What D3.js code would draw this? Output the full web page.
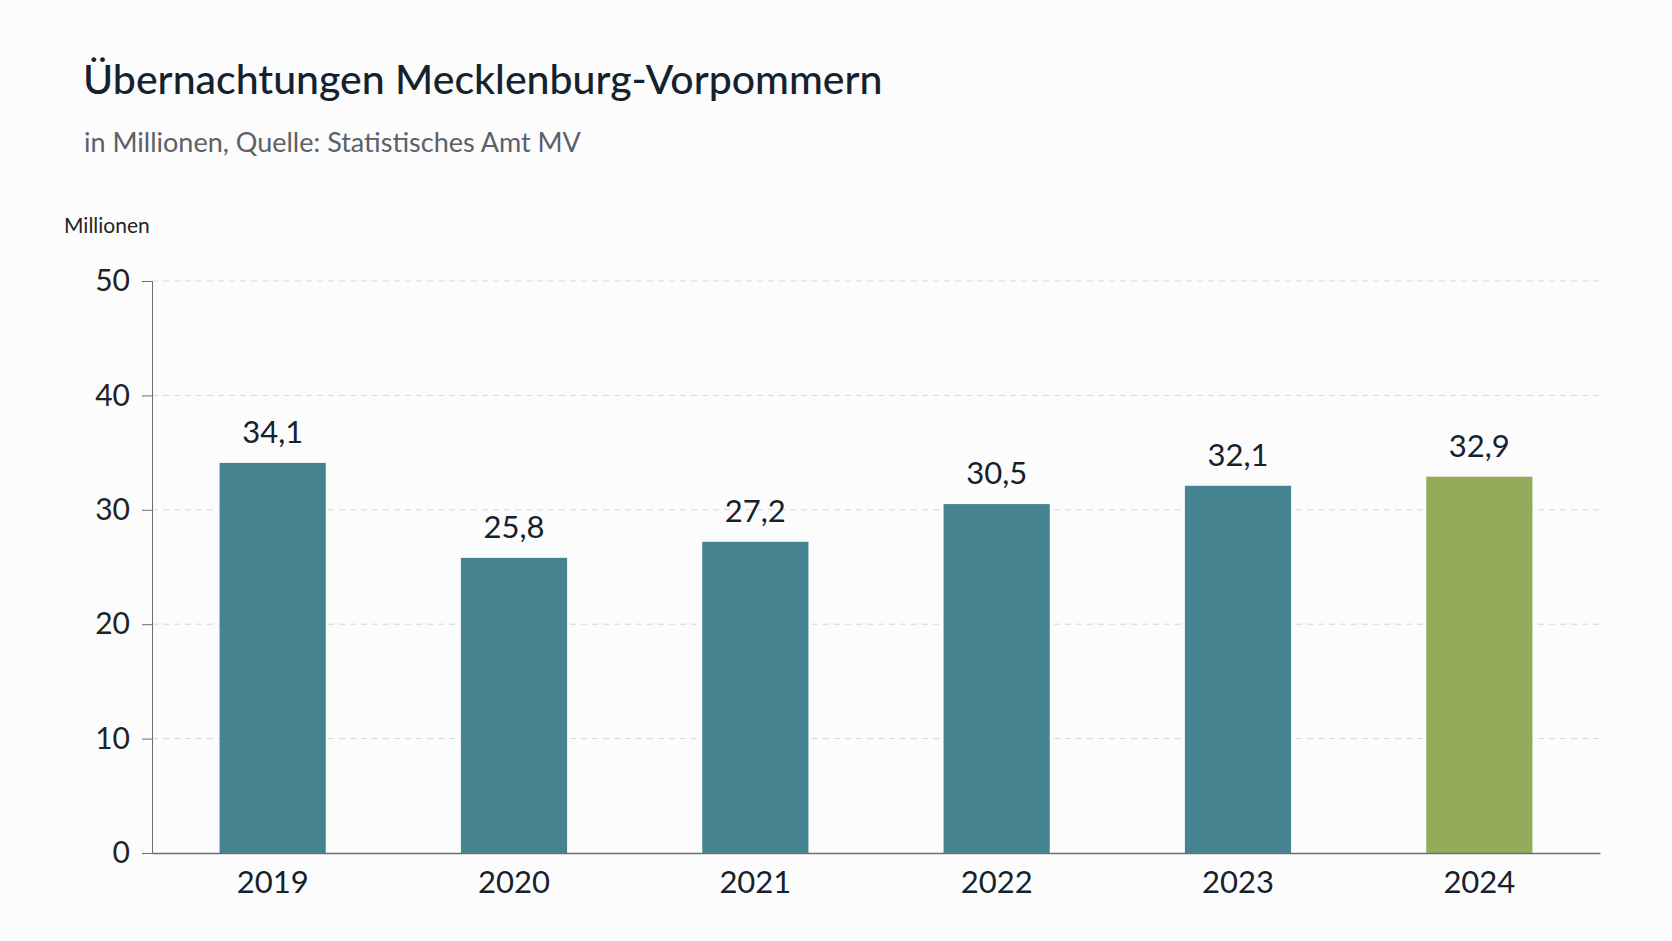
<!DOCTYPE html>
<html><head><meta charset="utf-8">
<script src="https://cdn.jsdelivr.net/npm/d3@7"></script>
<style>body{margin:0;background:#fcfcfd}</style>
</head><body>
<script>
const years = ['2019','2020','2021','2022','2023','2024']
const values = [34.1, 25.8, 27.2, 30.5, 32.1, 32.9]
const labels = ['34,1','25,8','27,2','30,5','32,1','32,9']
const yTicks = [0, 10, 20, 30, 40, 50]

const width = 1672, height = 941
const plotLeft = 152, plotRight = 1600, plotTop = 281, plotBottom = 853
const font = 'Lato, "Open Sans", sans-serif'

const svg = d3.select('body').append('svg')
    .attr('width', width).attr('height', height)
    .style('font-family', font)

svg.append('text').attr('x', 83).attr('y', 94)
    .attr('font-size', 41).attr('font-weight', 500).attr('fill', '#14222e')
    .text('Übernachtungen Mecklenburg-Vorpommern')
svg.append('text').attr('x', 84).attr('y', 152)
    .attr('font-size', 27).attr('fill', '#5b6166')
    .text('in Millionen, Quelle: Statistisches Amt MV')
svg.append('text').attr('x', 64).attr('y', 233)
    .attr('font-size', 21).attr('fill', '#1e2328')
    .text('Millionen')

const x = d3.scaleBand().domain(years).range([plotLeft, plotRight]).paddingInner(0.56).paddingOuter(0.28)
const y = d3.scaleLinear().domain([0, 50]).range([plotBottom, plotTop])

// grid
svg.append('g').selectAll('line').data(yTicks.slice(1)).join('line')
    .attr('x1', plotLeft).attr('x2', plotRight)
    .attr('y1', d => y(d)).attr('y2', d => y(d))
    .attr('stroke', '#d3d6d8').attr('stroke-dasharray', '6,5')

const yAxis = svg.append('g').attr('transform', `translate(${plotLeft},0)`)
    .call(d3.axisLeft(y).tickValues(yTicks).tickSize(10).tickPadding(12))
yAxis.select('.domain').attr('stroke', '#6b6f73')
yAxis.selectAll('.tick line').attr('stroke', '#6b6f73')
yAxis.selectAll('text').attr('font-size', 30).attr('font-family', font).attr('fill', '#1e2328')

svg.append('g').selectAll('rect').data(values).join('rect')
    .attr('x', (d, i) => x(years[i])).attr('width', x.bandwidth())
    .attr('y', d => y(d)).attr('height', d => plotBottom - y(d))
    .attr('fill', (d, i) => i === years.length - 1 ? '#93ab5b' : '#44838f')

svg.append('g').selectAll('text').data(values).join('text')
    .attr('x', (d, i) => x(years[i]) + x.bandwidth() / 2)
    .attr('y', d => y(d) - 20)
    .attr('text-anchor', 'middle').attr('font-size', 31).attr('fill', '#14222e')
    .text((d, i) => labels[i])

const xAxis = svg.append('g').attr('transform', `translate(0,${plotBottom})`)
    .call(d3.axisBottom(x).tickSize(0).tickPadding(18))
xAxis.select('.domain').attr('stroke', '#6b6f73').attr('stroke-width', 1.5)
xAxis.selectAll('text').attr('font-size', 31).attr('font-family', font).attr('fill', '#14222e')
</script>
</body></html>
